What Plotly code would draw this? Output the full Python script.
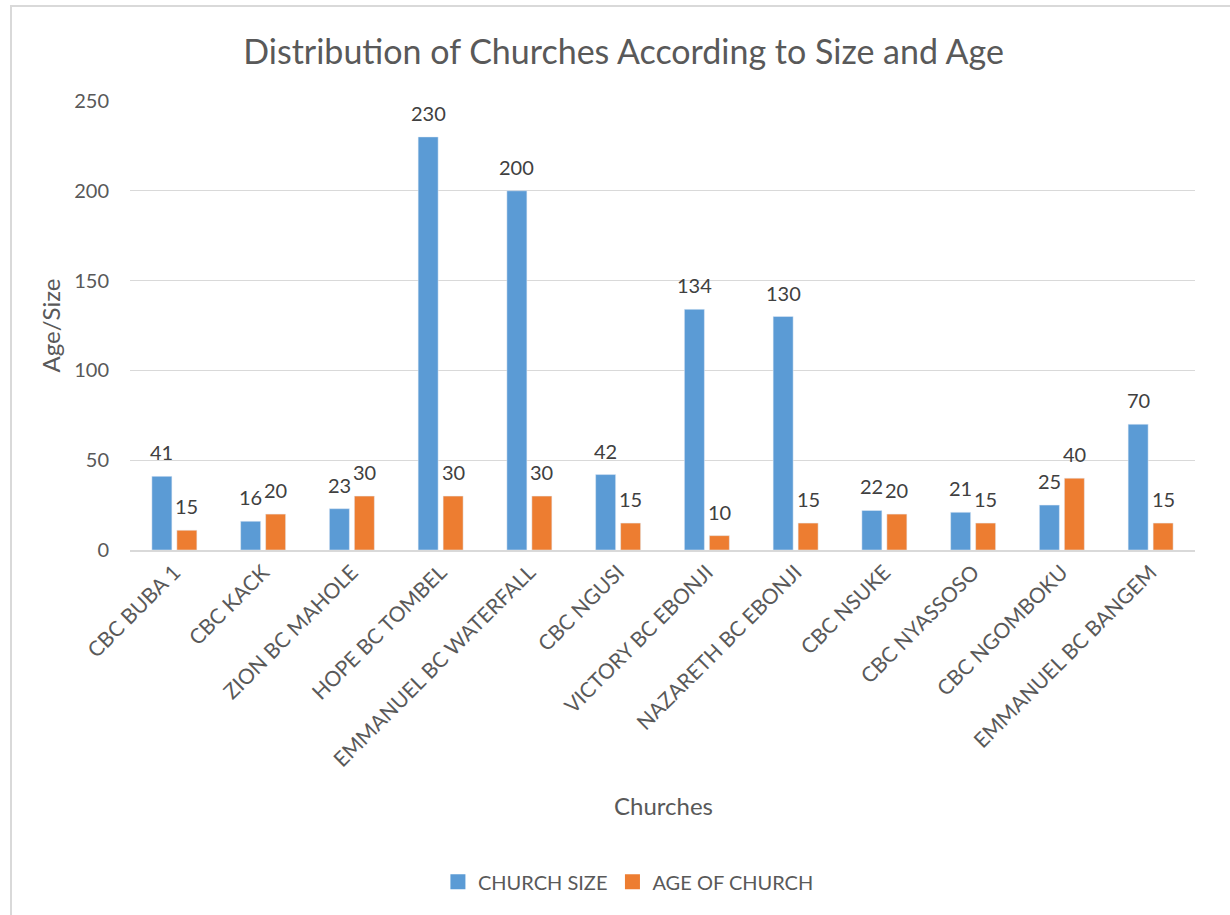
import plotly.graph_objects as go

churches = ["CBC BUBA 1", "CBC KACK", "ZION BC MAHOLE", "HOPE BC TOMBEL",
            "EMMANUEL BC WATERFALL", "CBC NGUSI", "VICTORY BC EBONJI",
            "NAZARETH BC EBONJI", "CBC NSUKE", "CBC NYASSOSO", "CBC NGOMBOKU",
            "EMMANUEL BC BANGEM"]
church_size = [41, 16, 23, 230, 200, 42, 134, 130, 22, 21, 25, 70]
church_size_labels = ["41", "16", "23", "230", "200", "42", "134", "130", "22", "21", "25", "70"]
church_age = [11, 20, 30, 30, 30, 15, 8, 15, 20, 15, 40, 15]
church_age_labels = ["15", "20", "30", "30", "30", "15", "10", "15", "20", "15", "40", "15"]

text_color = "#595959"
label_color = "#404040"
font_family = "Lato, 'Open Sans', sans-serif"
blue = "#5B9BD5"
orange = "#ED7D31"

fig = go.Figure()
fig.add_trace(go.Bar(x=churches, y=church_size, name="CHURCH SIZE",
                     marker=dict(color=blue), showlegend=False))
fig.add_trace(go.Bar(x=churches, y=church_age, name="AGE OF CHURCH",
                     marker=dict(color=orange), showlegend=False))
# legend entries with square swatches
fig.add_trace(go.Scatter(x=[None], y=[None], mode="markers", name="CHURCH SIZE",
                         marker=dict(symbol="square", size=15, color=blue)))
fig.add_trace(go.Scatter(x=[None], y=[None], mode="markers", name="AGE OF CHURCH",
                         marker=dict(symbol="square", size=15, color=orange)))

# data labels above each bar
for values, labels, shift in ((church_size, church_size_labels, -12.5),
                              (church_age, church_age_labels, 12.5)):
    for c, v, t in zip(churches, values, labels):
        fig.add_annotation(x=c, y=v, text=t, showarrow=False, xref="x", yref="y",
                           xshift=shift, yshift=24, xanchor="center", yanchor="middle",
                           font=dict(size=20, color=label_color))

fig.update_layout(
    width=1230, height=915,
    margin=dict(l=130, r=35, t=101, b=365),
    paper_bgcolor="white", plot_bgcolor="white",
    font=dict(family=font_family, color=text_color),
    barmode="group", bargap=0.437, bargroupgap=0.2,
    title=dict(text="Distribution of Churches According to Size and Age",
               x=0.507, xref="container", xanchor="center",
               y=1 - 52 / 915, yref="container", yanchor="middle",
               font=dict(size=34, color=text_color, family=font_family)),
    legend=dict(orientation="h", x=0.468, xanchor="center", y=-0.739, yanchor="middle",
                font=dict(size=20, color=text_color), traceorder="normal"),
    showlegend=True,
)
fig.update_yaxes(range=[0, 250], dtick=50, showgrid=True, gridcolor="#d9d9d9", gridwidth=1,
                 zeroline=False, showline=False, ticks="", ticklen=0, ticklabelstandoff=20,
                 tickfont=dict(size=20, color=text_color),
                 title=dict(text="Age/Size", font=dict(size=24, color=text_color), standoff=6))
fig.update_xaxes(showline=True, linecolor="#d9d9d9", linewidth=1.5, ticks="",
                 tickangle=-45, tickfont=dict(size=21, color=text_color))

fig.add_annotation(text="Churches", xref="paper", yref="paper",
                   x=(663 - 130) / 1065, y=(550 - 805) / 449, xanchor="center", yanchor="middle",
                   showarrow=False, font=dict(size=24, color=text_color))

fig.add_shape(type="rect", xref="paper", yref="paper",
              x0=(11 - 130) / 1065, x1=1.5, y0=-2.0, y1=(550 - 6) / 449,
              line=dict(color="#d9d9d9", width=2), fillcolor="rgba(0,0,0,0)", layer="below")

fig.write_html("out.html")
